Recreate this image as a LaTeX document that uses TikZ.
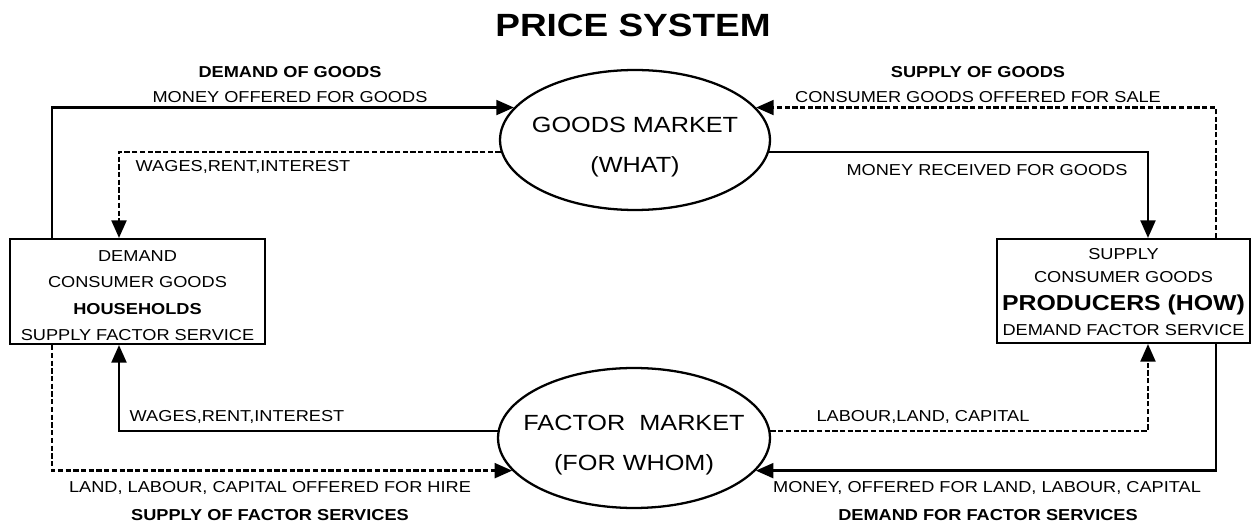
\documentclass[tikz,border=0pt]{standalone}
\usepackage{fontspec}
\setmainfont[FakeStretch=1.15]{Liberation Sans}
\usetikzlibrary{arrows.meta,shapes.geometric}

\tikzset{
  market/.style={draw, ellipse, line width=1.3pt, minimum width=5.4cm, minimum height=2.8cm, inner sep=0pt},
  mtext/.style={align=center, font=\fontsize{12.5}{22.5}\selectfont},
  agent/.style={draw, line width=1.2pt, inner sep=0pt},
  flow/.style={line width=1.3pt, -{Triangle[length=10pt,width=8.5pt]}},
  dflow/.style={flow, dash pattern=on 3pt off 1.4pt},
  lbl/.style={font=\fontsize{9}{11}\selectfont},
  blbl/.style={font=\fontsize{9}{11}\selectfont\bfseries}
}

\begin{document}
\begin{tikzpicture}[x=0.02cm, y=-0.02cm]
  \useasboundingbox (0,0) rectangle (1252,523);

  % title
  \node (title) at (633,25) [font=\fontsize{18.3}{22}\selectfont\bfseries] {PRICE SYSTEM};

  % the two markets
  \node (gm) at (635,140) [market] {};
  \node (gmtext) at (635,147) [mtext] {GOODS MARKET\\(WHAT)};
  \node (fm) at (634,438) [market, minimum width=5.44cm] {};
  \node (fmtext) at (634,445) [mtext] {FACTOR\ \ MARKET\\(FOR WHOM)};

  % households and producers
  \node (hh) at (137.5,291.5) [agent, minimum width=5.1cm, minimum height=2.1cm] {};
  \node (hhtext) at (137.5,295.5) [align=center, font=\fontsize{9}{15.1}\selectfont]
    {DEMAND\\CONSUMER GOODS\\\textbf{HOUSEHOLDS}\\SUPPLY FACTOR SERVICE};
  \node (pr) at (1123.5,291) [agent, minimum width=5.06cm, minimum height=2.08cm] {};
  \node (prtext) at (1123.5,292) [align=center, font=\fontsize{9}{13}\selectfont]
    {SUPPLY\\CONSUMER GOODS\\[3pt]{\fontsize{12.3}{15}\selectfont\bfseries PRODUCERS (HOW)}\\[1pt]DEMAND FACTOR SERVICE};

  % lanes of the connectors
  \coordinate (la) at (52,0);
  \coordinate (lb) at (119,0);
  \coordinate (ra) at (1148,0);
  \coordinate (rb) at (1216,0);

  \draw[flow] (hh.north -| la) |- (gm.165);
  \draw[dflow] (gm.185) -| (hh.north -| lb);
  \draw[dflow] (pr.north -| rb) |- (gm.15);
  \draw[flow] (gm.-5) -| (pr.north -| ra);
  \draw[flow] (fm.177) -| (hh.south -| lb);
  \draw[dflow] (hh.south -| la) |- (fm.195);
  \draw[dflow] (fm.3) -| (pr.south -| ra);
  \draw[flow] (pr.south -| rb) |- (fm.-15);

  % labels
  \node (dog) at (290,72) [blbl] {DEMAND OF GOODS};
  \node (mog) at (290,97) [lbl] {MONEY OFFERED FOR GOODS};
  \node (wri1) at (243,167) [lbl] {WAGES,RENT,INTEREST};
  \node (sog) at (978,72) [blbl] {SUPPLY OF GOODS};
  \node (cgo) at (978,97) [lbl] {CONSUMER GOODS OFFERED FOR SALE};
  \node (mrg) at (987,170) [lbl] {MONEY RECEIVED FOR GOODS};
  \node (wri2) at (237,417) [lbl] {WAGES,RENT,INTEREST};
  \node (llc) at (270,488) [lbl] {LAND, LABOUR, CAPITAL OFFERED FOR HIRE};
  \node (sfs) at (270,515) [blbl] {SUPPLY OF FACTOR SERVICES};
  \node (lab) at (923,417) [lbl] {LABOUR,LAND, CAPITAL};
  \node (mol) at (987,488) [lbl] {MONEY, OFFERED FOR LAND, LABOUR, CAPITAL};
  \node (dfs) at (988,515) [blbl] {DEMAND FOR FACTOR SERVICES};
\end{tikzpicture}
\end{document}
